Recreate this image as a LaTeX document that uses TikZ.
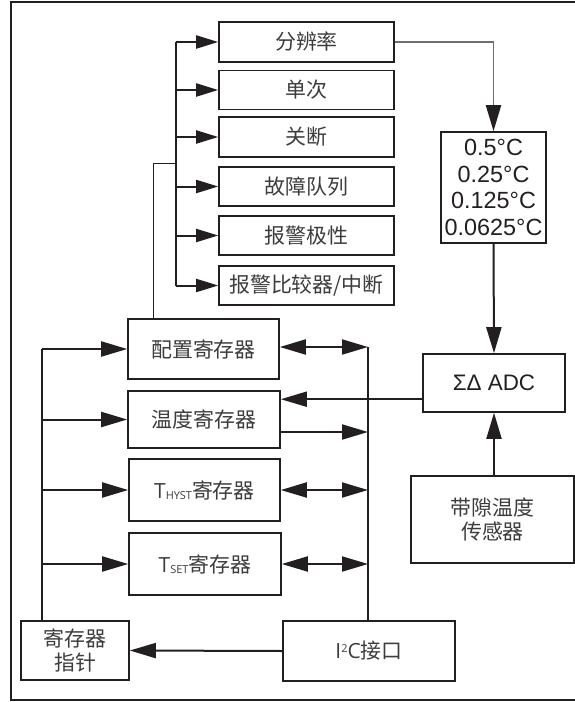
\documentclass[tikz,border=0pt]{standalone}
\usepackage{fontspec}
\setmainfont{Liberation Sans}
\newfontfamily\cjk{Noto Sans CJK SC}
\newfontfamily\lat{Open Sans}
\usetikzlibrary{arrows.meta,calc}
\definecolor{linec}{RGB}{35,31,32}
\definecolor{textg}{RGB}{60,60,60}
\definecolor{thing}{RGB}{110,110,110}
\tikzset{
  box/.style={draw=linec, line width=1.6bp, inner sep=0pt, align=center,
    font=\cjk\fontsize{21}{25}\selectfont, text=textg},
  numbox/.style={box, font=\fontsize{23.5}{26.5}\selectfont, text=linec},
  bus/.style={draw=linec, line width=2.4bp},
  thinl/.style={draw=linec, line width=1bp},
  arrS/.style={draw=linec, line width=2bp, -{Triangle[length=22bp,width=13bp]}},
  arrB/.style={draw=linec, line width=2bp, -{Triangle[length=26bp,width=15bp]}},
  arrD/.style={draw=linec, line width=2bp, {Triangle[length=26bp,width=15bp]}-{Triangle[length=26bp,width=15bp]}},
  frame/.style={draw=linec, line width=2bp},
}
\begin{document}
\begin{tikzpicture}[x=1bp,y=-1bp]
\useasboundingbox (0,0) rectangle (575,702);
\draw[frame] (576,2) -- (11,2) -- (11,700) -- (576,700);

% option boxes
\node[box, minimum width=175bp, minimum height=40bp] (res) at (306.5,42) {分辨率};
\node[box, minimum width=175bp, minimum height=39bp] (once) at (306.5,90) {单次};
\node[box, minimum width=175bp, minimum height=40bp] (shut) at (306.5,137) {关断};
\node[box, minimum width=175bp, minimum height=39bp] (fault) at (306.5,186.5) {故障队列};
\node[box, minimum width=175bp, minimum height=39bp] (pol) at (306.5,235.5) {报警极性};
\node[box, minimum width=175bp, minimum height=39bp] (cmp) at (306.5,285.5) {报警比较器/中断};

% right column
\node[numbox, minimum width=105bp, minimum height=111bp] (vals) at (493.5,187.5) {0.5°C\\0.25°C\\0.125°C\\0.0625°C};
\node[numbox, minimum width=142bp, minimum height=58bp, font=\fontsize{22.5}{26}\selectfont] (adc) at (494,383) {ΣΔ ADC};
\node[box, minimum width=163bp, minimum height=87bp] (sens) at (492.5,519.5) {带隙温度\\传感器};

% registers
\node[box, minimum width=151bp, minimum height=60bp] (conf) at (203.5,349) {配置寄存器};
\node[box, minimum width=152bp, minimum height=57bp] (temp) at (204,419.5) {温度寄存器};
\node[box, minimum width=151bp, minimum height=62bp] (hyst) at (204.5,490) {{\lat T\raisebox{-1.5bp}{\fontsize{11}{11}\selectfont HYST}}寄存器};
\node[box, minimum width=152bp, minimum height=62bp] (tset) at (205,564) {{\lat T\raisebox{-1.5bp}{\fontsize{11}{11}\selectfont SET}}寄存器};
\node[box, minimum width=108bp, minimum height=59bp] (ptr) at (75,650.5) {寄存器\\指针};
\node[box, minimum width=172bp, minimum height=60bp] (i2c) at (369,651) {{\lat I\raisebox{6bp}{\fontsize{11}{11}\selectfont 2}C}接口};

% option bus
\coordinate (lt) at (176,42);
\coordinate (lb) at (176,285.5);
\draw[bus] (lt) -- (lb);
\foreach \n in {res,once,shut,fault,pol,cmp} {
  \draw[arrS] (\n.west -| lt) -- (\n.west);
}
\coordinate (cj) at (153,163);
\draw[thinl] (conf.north -| cj) -- (cj) -- (cj -| lt);

% resolution to values
\draw[draw=thing, line width=1.2bp] (res.east) -- (res.east -| vals.north) -- ($(vals.north)+(0,-20)$);
\draw[arrB] ($(vals.north)+(0,-24)$) -- (vals.north);
\draw[arrB] (vals.south) -- (adc.north);
\draw[arrB] (adc.south |- sens.north) -- (adc.south);

% left bus
\coordinate (lbt) at (42,349);
\draw[bus] (lbt |- ptr.north) -- (lbt);
\draw[arrB] (lbt) -- (conf.west);
\draw[arrB] (temp.west -| lbt) -- (temp.west);
\draw[arrB] (hyst.west -| lbt) -- (hyst.west);
\draw[arrB] (tset.west -| lbt) -- (tset.west);

% right bus
\coordinate (rt) at (368,347);
\draw[bus] (rt) -- (rt |- i2c.north);
\draw[arrD] ($(conf.east)+(0,-2)$) -- (rt);
\coordinate (tout) at ($(temp.east)+(0,12.5)$);
\draw[arrB] (tout) -- (tout -| rt);
\coordinate (tin) at ($(temp.north east)+(0,9)$);
\draw[arrB] (adc.west |- tin) -- (tin);
\draw[arrD] (hyst.east) -- (hyst.east -| rt);
\draw[arrD] (tset.east) -- (tset.east -| rt);

% pointer
\draw[arrB] (i2c.west) -- (ptr.east);
\end{tikzpicture}
\end{document}
